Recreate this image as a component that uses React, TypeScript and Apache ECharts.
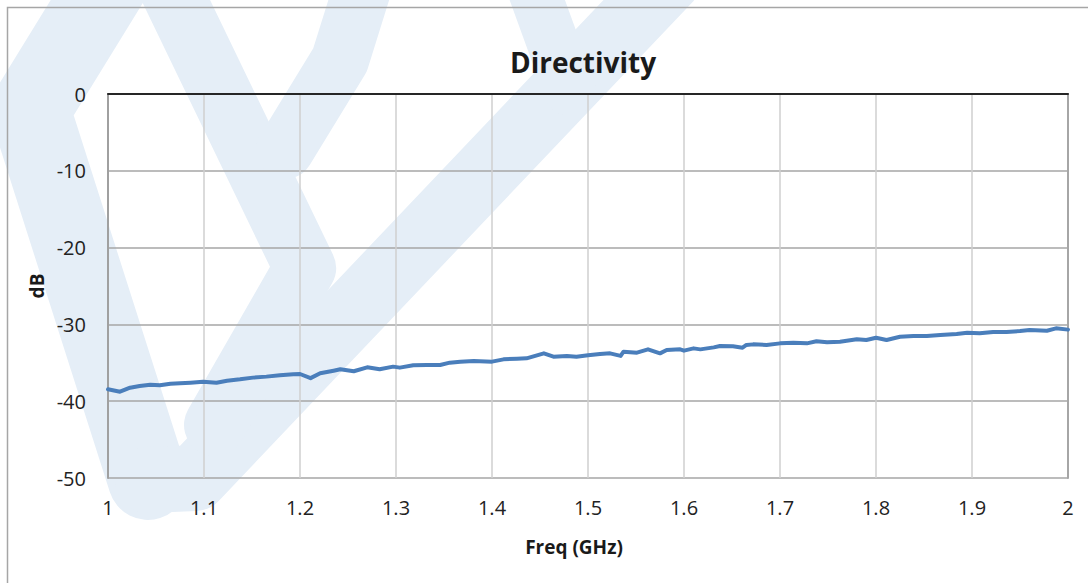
import React, { useEffect, useRef } from "react";
import * as echarts from "echarts";

const chartTitle = "Directivity";
const xAxisTitle = "Freq (GHz)";
const yAxisTitle = "dB";

const xTickLabels = ["1", "1.1", "1.2", "1.3", "1.4", "1.5", "1.6", "1.7", "1.8", "1.9", "2"];
const yTickLabels = ["-50", "-40", "-30", "-20", "-10", "0"];

const freqGHz = [
  1.0, 1.0125, 1.023, 1.033, 1.044, 1.054, 1.065, 1.075, 1.086, 1.099,
  1.113, 1.124, 1.1375, 1.151, 1.165, 1.179, 1.193, 1.2, 1.211, 1.221,
  1.235, 1.242, 1.256, 1.27, 1.283, 1.297, 1.304, 1.318, 1.332, 1.346,
  1.356, 1.367, 1.381, 1.4, 1.412, 1.426, 1.436, 1.454, 1.464, 1.478,
  1.488, 1.5, 1.5125, 1.523, 1.534, 1.537, 1.551, 1.5625, 1.575, 1.582,
  1.596, 1.6, 1.61, 1.617, 1.624, 1.631, 1.6375, 1.651, 1.661, 1.665,
  1.672, 1.686, 1.7, 1.714, 1.728, 1.738, 1.749, 1.7625, 1.78, 1.79,
  1.8, 1.811, 1.825, 1.839, 1.853, 1.867, 1.884, 1.895, 1.908, 1.922,
  1.936, 1.95, 1.96, 1.978, 1.9875, 2.0,
];

const directivityDb = [
  -38.45, -38.76, -38.24, -38.02, -37.85, -37.93, -37.72, -37.67, -37.59, -37.46,
  -37.59, -37.33, -37.15, -36.93, -36.8, -36.63, -36.5, -36.46, -37.0, -36.37,
  -36.03, -35.85, -36.1, -35.59, -35.85, -35.5, -35.63, -35.33, -35.29, -35.29,
  -34.98, -34.85, -34.77, -34.85, -34.55, -34.46, -34.42, -33.77, -34.2, -34.1,
  -34.2, -34.03, -33.85, -33.77, -34.1, -33.55, -33.68, -33.25, -33.77, -33.33,
  -33.25, -33.42, -33.12, -33.25, -33.12, -32.99, -32.81, -32.85, -33.03, -32.68,
  -32.6, -32.68, -32.47, -32.38, -32.47, -32.2, -32.33, -32.25, -31.94, -32.03,
  -31.73, -32.03, -31.6, -31.51, -31.51, -31.38, -31.25, -31.08, -31.16, -30.99,
  -30.99, -30.86, -30.73, -30.82, -30.51, -30.68,
];

const WM = "#e5eef7";

export default function App() {
  const ref = useRef<HTMLDivElement>(null);

  useEffect(() => {
    if (!ref.current) return;
    const chart = echarts.init(ref.current, undefined, { renderer: "svg" });
    const font = "'Open Sans', 'Noto Sans', sans-serif";
    const wmLine = (points: number[][], w: number) => ({
      type: "polyline",
      z: -10,
      silent: true,
      shape: { points },
      style: { stroke: WM, lineWidth: w, fill: null, lineCap: "round", lineJoin: "round" },
    });
    const centered = {
      align: "center",
      verticalAlign: "middle",
      textAlign: "center",
      textVerticalAlign: "middle",
      fill: "#1a1a1a",
    };
    chart.setOption({
      animation: false,
      backgroundColor: "#ffffff",
      grid: { left: 108, top: 94, width: 960, height: 384, containLabel: false },
      graphic: [
        wmLine([[110, -20], [30, 110], [148, 480]], 80),
        wmLine([[148, 480], [195, 478], [668, -20]], 66),
        wmLine([[166, -20], [305, 268], [215, 425]], 62),
        wmLine([[285, 150], [340, 60], [365, -20]], 58),
        wmLine([[530, -20], [570, 90]], 52),
        {
          type: "rect",
          z: 5,
          silent: true,
          shape: { x: 7.5, y: 7.5, width: 1100, height: 600 },
          style: { fill: null, stroke: "#a6a6a6", lineWidth: 1.5 },
        },
        {
          type: "text",
          z: 5,
          x: 583,
          y: 62,
          style: { ...centered, text: chartTitle, font: `bold 28px ${font}` },
        },
        {
          type: "text",
          z: 5,
          x: 574,
          y: 547,
          style: { ...centered, text: xAxisTitle, font: `bold 19px ${font}` },
        },
        {
          type: "text",
          z: 5,
          x: 37,
          y: 286,
          rotation: Math.PI / 2,
          style: { ...centered, text: yAxisTitle, font: `bold 19px ${font}` },
        },
      ],
      xAxis: [
        {
          type: "value",
          min: 1,
          max: 2,
          interval: 0.1,
          position: "bottom",
          axisLine: { show: false, onZero: false },
          axisTick: { show: false },
          splitLine: { show: true, lineStyle: { color: "#cfcfcf", width: 1.5 } },
          axisLabel: {
            margin: 19,
            fontSize: 20,
            fontFamily: font,
            color: "#222222",
            formatter: (v: number) => xTickLabels[Math.round((v - 1) * 10)],
          },
        },
        {
          type: "value",
          min: 1,
          max: 2,
          position: "top",
          axisLine: { show: true, onZero: false, lineStyle: { color: "#262626", width: 2 } },
          axisTick: { show: false },
          axisLabel: { show: false },
          splitLine: { show: false },
        },
      ],
      yAxis: [
        {
          type: "value",
          min: -50,
          max: 0,
          interval: 10,
          axisLine: { show: true, onZero: false, lineStyle: { color: "#a0a0a0", width: 2 } },
          axisTick: { show: false },
          splitLine: { show: true, lineStyle: { color: "#a6a6a6", width: 1.5 } },
          axisLabel: {
            margin: 22,
            fontSize: 20,
            fontFamily: font,
            color: "#222222",
            formatter: (v: number) => yTickLabels[Math.round((v + 50) / 10)],
          },
        },
        {
          type: "value",
          min: -50,
          max: 0,
          position: "right",
          axisLine: { show: true, onZero: false, lineStyle: { color: "#a6a6a6", width: 2 } },
          axisTick: { show: false },
          axisLabel: { show: false },
          splitLine: { show: false },
        },
      ],
      series: [
        {
          type: "line",
          xAxisIndex: 0,
          yAxisIndex: 0,
          data: freqGHz.map((f, i) => [f, directivityDb[i]]),
          showSymbol: false,
          symbol: "none",
          lineStyle: { color: "#4a7ebb", width: 4, join: "round", cap: "round" },
          z: 3,
        },
      ],
    });
    return () => chart.dispose();
  }, []);

  return (
    <div
      ref={ref}
      style={{ position: "fixed", left: 0, top: 0, width: 1088, height: 583, background: "#fff" }}
    />
  );
}
